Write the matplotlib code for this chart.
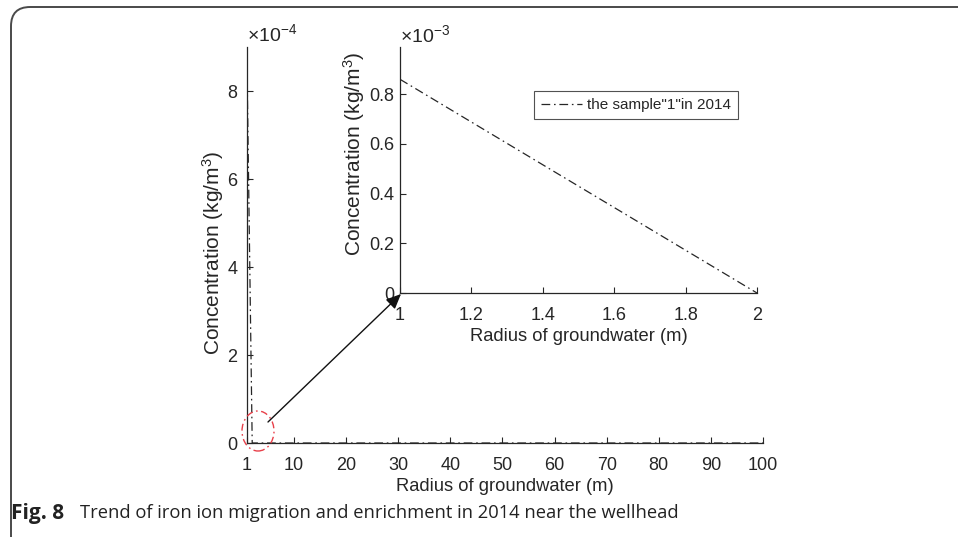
import matplotlib
matplotlib.use("Agg")
import matplotlib.pyplot as plt
from matplotlib.patches import FancyBboxPatch, Ellipse, FancyArrowPatch
from matplotlib.ticker import FuncFormatter, FixedLocator

# ---- data ----
radius = [1, 2, 100]                 # m
concentration = [8.6e-4, 0.0, 0.0]   # kg/m^3
inset_radius = [1, 2]
inset_conc = [8.6e-4, 0.0]
main_xticks = [1, 10, 20, 30, 40, 50, 60, 70, 80, 90, 100]
main_yticks = [0, 2e-4, 4e-4, 6e-4, 8e-4]
inset_xticks = [1, 1.2, 1.4, 1.6, 1.8, 2]
inset_yticks = [0, 0.2e-3, 0.4e-3, 0.6e-3, 0.8e-3]
legend_label = 'the sample"1"in 2014'
xlabel = "Radius of groundwater (m)"
ylabel = "Concentration (kg/m$^3$)"
caption_bold = "Fig. 8"
caption_text = "Trend of iron ion migration and enrichment in 2014 near the wellhead"

W, H = 958, 537
fig = plt.figure(figsize=(W / 100, H / 100), dpi=100)
plt.rcParams['font.family'] = ['Liberation Sans', 'DejaVu Sans']
plt.rcParams['mathtext.fontset'] = 'custom'
plt.rcParams['mathtext.rm'] = 'Liberation Sans'
plt.rcParams['mathtext.it'] = 'Liberation Sans'

tc = '#262626'
fs = 13
dashdot = (0, (7, 3, 1.3, 3))

def fx(px):
    return px / W

def fy(py):
    return 1 - py / H

def style(ax, scale, exp, ypad, ylabelsize, ylab_xy):
    for s in ['top', 'right']:
        ax.spines[s].set_visible(False)
    for s in ['left', 'bottom']:
        ax.spines[s].set_color(tc)
        ax.spines[s].set_linewidth(0.9)
    ax.tick_params(direction='in', length=4, width=0.8, colors=tc,
                   labelsize=fs, labelcolor=tc)
    ax.tick_params(axis='x', pad=10)
    ax.tick_params(axis='y', pad=ypad)
    ax.xaxis.set_major_formatter(FuncFormatter(lambda v, p: f"{v:g}"))
    ax.yaxis.set_major_formatter(FuncFormatter(lambda v, p: f"{v/scale:g}"))
    ax.text(0.0, 1.004, r"$\times10^{%d}$" % exp, transform=ax.transAxes,
            fontsize=14, color=tc, ha='left', va='bottom')
    ax.set_xlabel(xlabel, fontsize=13.2, color=tc, labelpad=3)
    ax.set_ylabel(ylabel, fontsize=ylabelsize, color=tc)
    ax.yaxis.set_label_coords(*ylab_xy)
    ax.patch.set_alpha(0)

# main axes
ax = fig.add_axes([fx(247), fy(443), fx(763) - fx(247), fy(47) - fy(443)])
ax.plot(radius, concentration, color=tc, lw=0.9, ls=dashdot)
ax.set_xlim(1, 100)
ax.set_ylim(0, 9e-4)
ax.xaxis.set_major_locator(FixedLocator(main_xticks))
ax.yaxis.set_major_locator(FixedLocator(main_yticks))
style(ax, 1e-4, -4, 7, 15, ((226 - 247) / 516, 0.48))

# inset axes
ax2 = fig.add_axes([fx(400), fy(293), fx(757) - fx(400), fy(47) - fy(293)])
ax2.plot(inset_radius, inset_conc, color=tc, lw=0.9, ls=dashdot,
         label=legend_label)
ax2.set_xlim(1, 2)
ax2.set_ylim(0, 0.99e-3)
ax2.xaxis.set_major_locator(FixedLocator(inset_xticks))
ax2.yaxis.set_major_locator(FixedLocator(inset_yticks))
style(ax2, 1e-3, -3, 4, 15, ((367 - 400) / 357, 0.565))
leg = ax2.legend(loc='upper right', bbox_to_anchor=(0.947, 0.821),
                 borderaxespad=0, fontsize=11, frameon=True, fancybox=False,
                 edgecolor=tc, handlelength=2.7, borderpad=0.45,
                 handletextpad=0.35)
leg.get_frame().set_linewidth(0.8)
for t in leg.get_texts():
    t.set_color(tc)

# red dashed circle and arrow
ell = Ellipse((fx(258), fy(431)), fx(32), 40 / H, transform=fig.transFigure,
              fill=False, edgecolor='#e8404a', lw=1.0, ls=(0, (5, 2.5, 1.2, 2.5)))
fig.add_artist(ell)
fig.add_artist(FancyArrowPatch(
    (fx(268), fy(422)), (fx(401), fy(294)), transform=fig.transFigure,
    arrowstyle='-|>,head_length=9,head_width=4', color='#111111', lw=1.0,
    shrinkA=0, shrinkB=0))

# border frame
frame = FancyBboxPatch((fx(11), fy(560)), fx(1000), (560 - 7) / H,
                       boxstyle="round,pad=0,rounding_size=0.02",
                       transform=fig.transFigure, fill=False,
                       edgecolor='#4a4a4a', lw=1.4, mutation_aspect=W / H)
fig.add_artist(frame)

# caption
cap_font = ['Open Sans', 'DejaVu Sans']
fig.text(fx(11), fy(513), caption_bold, fontsize=15, fontweight='bold',
         family=cap_font, color='#222222', ha='left', va='center')
fig.text(fx(80), fy(513), caption_text, fontsize=13.2,
         family=cap_font, color='#222222', ha='left', va='center')

fig.savefig("out.png", dpi=100)
